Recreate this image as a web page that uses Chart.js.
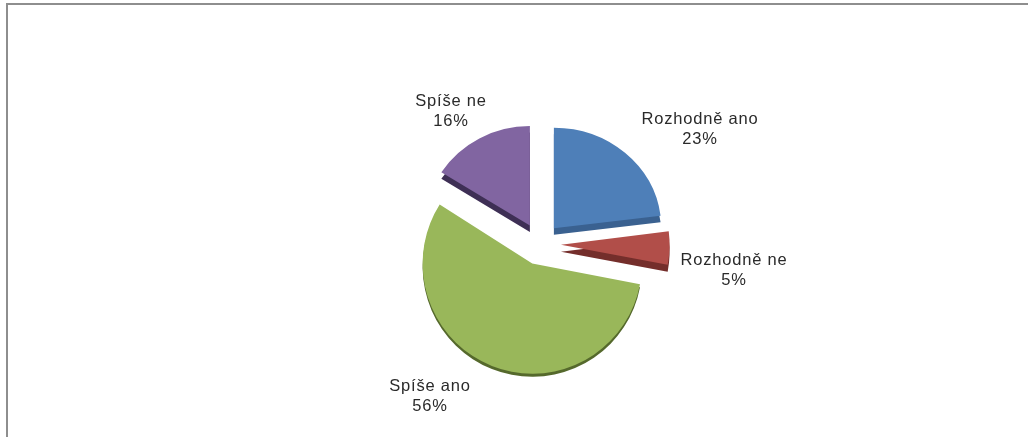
<!DOCTYPE html>
<html>
<head>
<meta charset="utf-8">
<title>Rozhodně ano</title>
<script src="https://cdn.jsdelivr.net/npm/chart.js@4/dist/chart.umd.min.js"></script>
<style>
    html, body { margin: 0; padding: 0; background: #fff; overflow: hidden; }
    body { width: 1028px; height: 437px; position: relative; }
    .frame {
        position: absolute; left: 6px; top: 3px; right: 0; bottom: 0;
        border-top: 2px solid #8e8e8e;
        border-left: 2px solid #8e8e8e;
    }
    canvas { position: absolute; left: 0; top: 0; }
</style>
</head>
<body>
<div class="frame"></div>
<canvas id="chart" width="1028" height="437"></canvas>
<script>
const categories = ['Rozhodně ano', 'Rozhodně ne', 'Spíše ano', 'Spíše ne'];
const values = [23, 5, 56, 16];
const colors = ['#4e7fb8', '#b14e49', '#99b75a', '#8165a1'];
const sideColors = ['#3a6190', '#742e2b', '#55692c', '#3e2f55'];

// look of each slice: pulled out of the pie, thickness, x/y size
const explode = 21;
const depth = [7, 7, 3, 7];
const sliceScale = [[1.005, 0.94], [1.015, 1], [1.025, 1.03], [0.98, 0.93]];
// label centre relative to the pie centre
const labelOffset = [[160, -115], [194, 26], [-110, 152], [-89, -133]];

// draws the slices by hand so each one gets a darker side below it
const explodedPie = {
    id: 'explodedPie',
    beforeDatasetDraw(chart, args) {
        const ctx = chart.ctx;
        args.meta.data.forEach((arc, i) => {
            const mid = (arc.startAngle + arc.endAngle) / 2;
            const dx = Math.cos(mid) * explode;
            const dy = Math.sin(mid) * explode;
            const own = arc.options;

            ctx.save();
            ctx.translate(arc.x + dx, arc.y + dy);
            ctx.scale(sliceScale[i][0], sliceScale[i][1]);
            ctx.translate(-arc.x, -arc.y);

            ctx.save();
            ctx.translate(0, depth[i]);
            arc.options = Object.assign({}, own, { backgroundColor: sideColors[i] });
            arc.draw(ctx);
            ctx.restore();

            arc.options = own;
            arc.draw(ctx);
            ctx.restore();
        });
        return false;
    },
    afterDraw(chart) {
        const ctx = chart.ctx;
        const arcs = chart.getDatasetMeta(0).data;
        ctx.save();
        ctx.fillStyle = '#2a2a2a';
        ctx.font = '16.5px "Liberation Sans"';
        ctx.letterSpacing = '0.8px';
        ctx.textAlign = 'center';
        ctx.textBaseline = 'middle';
        arcs.forEach((arc, i) => {
            const x = arc.x + labelOffset[i][0];
            const y = arc.y + labelOffset[i][1];
            ctx.fillText(categories[i], x, y - 10);
            ctx.fillText(values[i] + '%', x, y + 10);
        });
        ctx.restore();
    }
};

new Chart(document.querySelector('#chart'), {
    type: 'pie',
    data: {
        labels: categories,
        datasets: [{
            data: values,
            backgroundColor: colors,
            borderWidth: 0,
            hoverOffset: 0
        }]
    },
    options: {
        responsive: false,
        animation: false,
        radius: 107,
        layout: { padding: { left: 52, top: 51 } },
        plugins: {
            legend: { display: false },
            tooltip: { enabled: false }
        }
    },
    plugins: [explodedPie]
});
</script>
</body>
</html>
